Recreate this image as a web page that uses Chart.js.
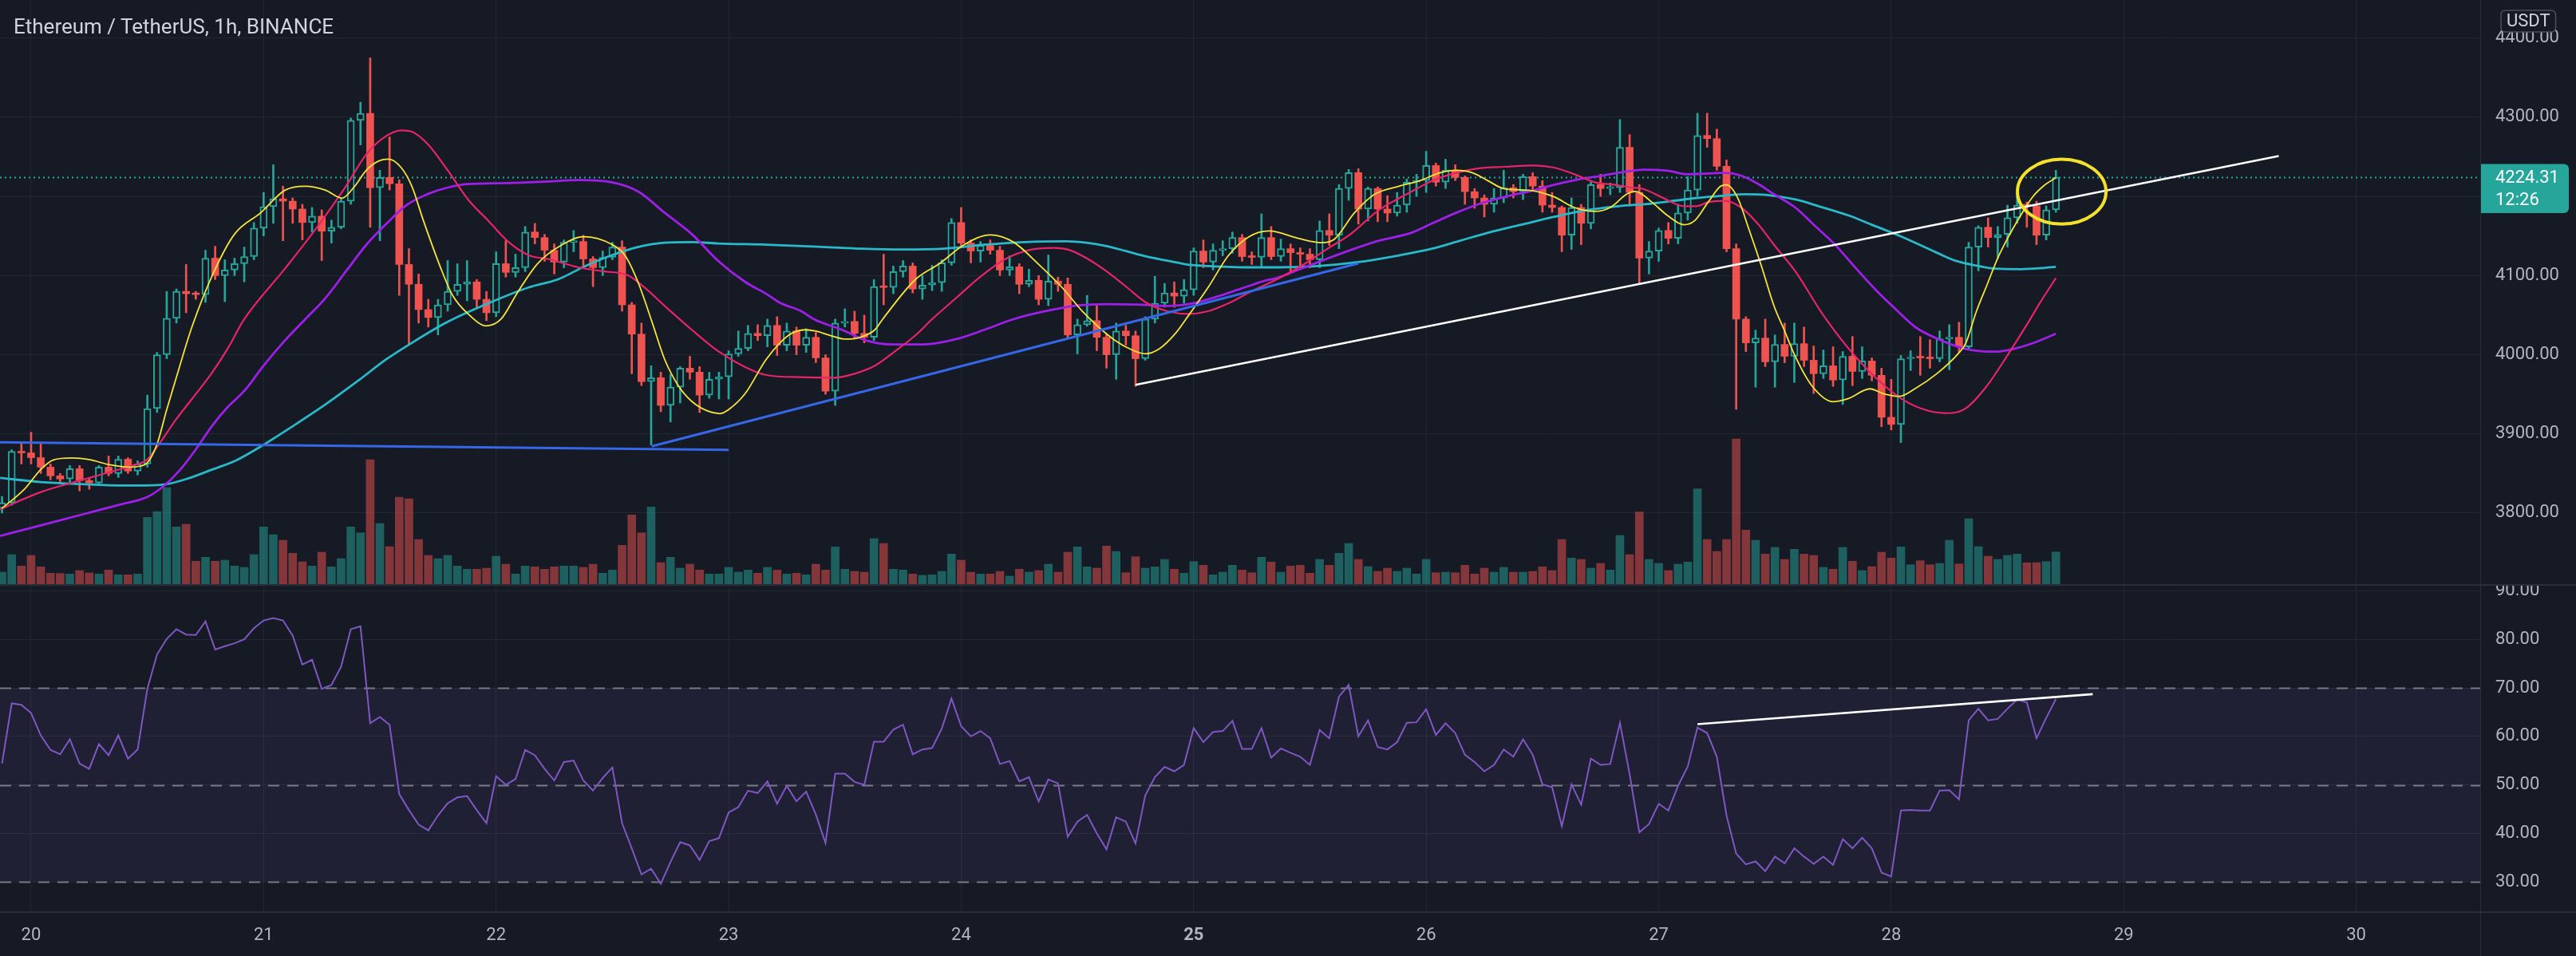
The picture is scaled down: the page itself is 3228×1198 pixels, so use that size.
<!DOCTYPE html>
<html>
<head>
<meta charset="utf-8">
<title>Ethereum / TetherUS, 1h, BINANCE</title>
<script src="https://cdn.jsdelivr.net/npm/chart.js@4.4.1/dist/chart.umd.min.js"></script>
<style>
  html, body { margin:0; padding:0; background:#161a25; }
  #wrap { position:relative; width:3228px; height:1198px; overflow:hidden; background:#161a25; }
  #priceCanvas { position:absolute; left:0; top:0; }
  #rsiCanvas { position:absolute; left:0; top:734px; }
  .sep { position:absolute; background:#2a2e39; }
  #title { position:absolute; left:17px; top:20px; font:26px Roboto, "Noto Sans", sans-serif; line-height:26px; color:#d1d4dc; white-space:nowrap; }
</style>
</head>
<body>
<div id="wrap">
  <canvas id="priceCanvas" width="3228" height="732"></canvas>
  <canvas id="rsiCanvas" width="3228" height="464"></canvas>
  <div class="sep" style="left:0;top:732px;width:3228px;height:2px;"></div>
  <div class="sep" style="left:0;top:1142px;width:3228px;height:2px;"></div>
  <div class="sep" style="left:3108px;top:0;width:1px;height:1198px;"></div>
  <div id="title">Ethereum / TetherUS, 1h, BINANCE</div>
</div>
<script>
// ---------------- DATA ----------------
const FIRST_HOUR = -3;            // hours relative to the 20th 00:00
const OPEN = [
3806,3813,3878,3876,3870,3858,3847,3843,3856,3841,
3838,3858,3850,3868,3853,3862,3932,4000,4046,4080,
4077,4076,4122,4100,4107,4115,4124,4160,4187,4197,
4194,4184,4167,4175,4156,4161,4194,4296,4305,4211,
4224,4216,4114,4089,4057,4047,4063,4080,4089,4092,
4070,4053,4115,4104,4110,4155,4148,4132,4117,4142,
4143,4121,4110,4123,4136,4063,4026,3966,3971,3936,
3959,3983,3978,3949,3969,3972,4001,4008,4027,4024,
4037,4012,4030,4012,4022,3996,3954,4040,4042,4027,
4022,4086,4085,4105,4112,4083,4088,4091,4116,4167,
4141,4131,4138,4132,4107,4111,4089,4094,4070,4093,
4089,4025,4038,4043,4022,4000,4030,4024,3995,4045,
4065,4078,4074,4082,4131,4117,4132,4134,4148,4124,
4123,4148,4124,4134,4129,4127,4120,4157,4151,4210,
4230,4184,4210,4184,4179,4189,4218,4220,4239,4218,
4233,4224,4206,4198,4190,4198,4211,4206,4225,4213,
4189,4186,4151,4186,4166,4215,4210,4211,4262,4205,
4122,4131,4157,4147,4179,4208,4277,4273,4238,4134,
4045,4015,4021,3991,4013,3998,4014,3993,3976,3986,
3968,3998,3979,3992,3974,3921,3912,3995,3997,3996,
3995,4020,4022,4010,4136,4161,4148,4152,4173,4189,
4188,4151,4183];
const HIGH = [
3821,3880,3888,3902,3888,3862,3850,3860,3860,3845,
3860,3872,3872,3870,3866,3949,4003,4080,4083,4114,
4080,4132,4137,4120,4122,4136,4167,4205,4240,4213,
4198,4190,4186,4183,4170,4197,4299,4319,4375,4233,
4275,4221,4134,4102,4070,4070,4119,4115,4119,4095,
4080,4130,4144,4127,4162,4166,4152,4140,4145,4157,
4151,4124,4131,4142,4144,4066,4040,3986,3978,3975,
3985,3998,3985,3978,3978,4005,4030,4037,4038,4045,
4048,4040,4035,4033,4028,4000,4045,4058,4055,4050,
4095,4127,4112,4119,4116,4100,4113,4120,4172,4186,
4145,4143,4145,4137,4125,4115,4108,4100,4126,4098,
4097,4045,4075,4062,4026,4040,4037,4030,4048,4099,
4090,4092,4095,4135,4145,4140,4144,4155,4152,4130,
4178,4162,4146,4140,4135,4134,4169,4178,4215,4234,
4235,4212,4212,4201,4205,4222,4228,4257,4242,4247,
4240,4226,4210,4202,4210,4233,4215,4228,4230,4220,
4205,4188,4198,4190,4218,4228,4217,4297,4278,4215,
4143,4160,4167,4190,4225,4305,4305,4285,4246,4140,
4048,4031,4045,4025,4040,4040,4035,4011,4006,4010,
4004,4023,4010,3996,3983,3969,3999,4005,4023,4019,
4030,4038,4041,4142,4163,4173,4162,4189,4205,4193,
4194,4188,4233];
const LOW = [
3800,3810,3862,3862,3850,3842,3838,3838,3828,3830,
3835,3847,3845,3850,3848,3858,3927,3995,4040,4053,
4070,4066,4095,4067,4100,4092,4120,4150,4166,4144,
4166,4145,4155,4119,4141,4159,4190,4265,4161,4144,
4208,4075,4013,4040,4035,4025,4055,4075,4068,4060,
4043,4048,4098,4098,4105,4140,4118,4102,4110,4130,
4112,4086,4100,4120,4055,3976,3961,3886,3928,3915,
3939,3969,3927,3945,3944,3944,3998,4005,4018,4010,
3999,4005,4000,4003,3990,3950,3936,4035,4020,4015,
4018,4063,4077,4098,4078,4070,4081,4080,4113,4135,
4116,4117,4127,4100,4100,4077,4086,4063,4062,4080,
4020,4001,4036,4005,3983,3969,4012,3960,3993,4040,
4060,4060,4065,4075,4110,4107,4125,4128,4118,4114,
4110,4120,4118,4105,4110,4110,4110,4138,4134,4195,
4165,4169,4168,4168,4175,4180,4200,4205,4213,4210,
4220,4190,4185,4174,4180,4192,4198,4196,4207,4180,
4180,4130,4133,4139,4159,4200,4202,4205,4188,4089,
4102,4118,4140,4140,4170,4200,4262,4233,4130,3931,
4004,3959,3985,3959,3990,3965,3985,3951,3970,3960,
3937,3961,3970,3967,3909,3905,3889,3980,3974,3983,
3991,3981,4003,4007,4106,4136,4122,4136,4166,4161,
4139,4145,4180];
const CLOSE = [
3813,3878,3876,3870,3858,3847,3843,3856,3841,3838,
3858,3850,3868,3853,3862,3932,4000,4046,4080,4077,
4076,4122,4100,4107,4115,4124,4160,4187,4197,4194,
4184,4167,4175,4156,4161,4194,4296,4305,4211,4224,
4216,4114,4089,4057,4047,4063,4080,4089,4092,4070,
4053,4115,4104,4110,4155,4148,4132,4117,4142,4143,
4121,4110,4123,4136,4063,4026,3966,3971,3936,3959,
3983,3978,3949,3969,3972,4001,4008,4027,4024,4037,
4012,4030,4012,4022,3996,3954,4040,4042,4027,4022,
4086,4085,4105,4112,4083,4088,4091,4116,4167,4141,
4131,4138,4132,4107,4111,4089,4094,4070,4093,4089,
4025,4038,4043,4022,4000,4030,4024,3995,4045,4065,
4078,4074,4082,4131,4117,4132,4134,4148,4124,4123,
4148,4124,4134,4129,4127,4120,4157,4151,4210,4230,
4184,4210,4184,4179,4189,4218,4220,4239,4218,4233,
4224,4206,4198,4190,4198,4211,4206,4225,4213,4189,
4186,4151,4186,4166,4215,4210,4211,4262,4205,4122,
4131,4157,4147,4179,4208,4277,4273,4238,4134,4045,
4015,4021,3991,4013,3998,4014,3993,3976,3986,3968,
3998,3979,3992,3974,3921,3912,3995,3997,3996,3995,
4020,4022,4010,4136,4161,4148,4152,4173,4189,4188,
4151,4183,4224.31];
const VOLUME = [
15,37,22.7,36,21.7,13.7,13.3,12.7,17,14,
12.7,17.7,11.7,11.7,12.7,83.7,91,121,71.7,75,
28.7,33.7,28.7,30,22.7,21,37,71.7,62,55,
38.7,28,22.7,40,21.7,32,71.7,64.3,156,76,
47,109,107,56,36,32,36,22.7,18.7,18.7,
20,35,25,12.7,22.7,21.7,18.7,21.7,22.7,22.7,
21,25,13.7,17.7,48.7,86.7,64.3,96.7,27,33.7,
20,25,17.7,12.7,12.7,21,15,17.7,13.7,21,
17.7,12.7,13.7,11.7,25,17.7,46.7,18.7,16,15,
57,51,18.7,17.7,12.7,11,11.7,16,37.7,30,
15,12.7,12.7,16,10,18.7,15,17,25,15,
40,46.7,21.7,20,47.7,41,14.3,34.3,20,21.7,
31,18.7,13.7,28.3,23.7,11.7,15,23.7,17.7,14.3,
33.7,27.7,15,22.7,23.7,13.7,31,23.7,38.7,51,
31,22,16,20,16,20,12.7,31,14.3,15,
14.3,23.7,12.7,20,15,21,15,15,16,21.7,
17,56,32.7,31,20,26,17.7,61,37,90.3,
31,26,17,25,27.7,119.3,56,41,56,182,
67.7,55,37.7,46,31,43.7,37.7,36,21,18.7,
46,28.7,17,22,40,32.7,46.7,24.3,29.3,24.3,
26,55,25.3,82,47,35,31,36,37.7,26.7,
27,28.3,40.3];
const RSI = [
54.4,66.8,66.5,64.8,60.2,57.2,56.3,59.4,54.4,53.3,
58.4,56.1,60.2,55.4,57.3,69.8,76.9,80.1,82.1,81.0,
80.9,83.7,77.9,78.6,79.2,80.0,82.3,83.9,84.4,83.9,
80.8,74.8,75.8,69.8,70.6,74.4,82.1,82.7,62.7,64.0,
62.4,48.1,44.8,41.8,40.6,43.7,46.2,47.4,47.7,44.8,
42.1,51.8,50.0,51.2,57.2,56.1,53.3,50.9,54.7,55.0,
50.9,48.8,51.4,53.6,42.1,36.9,31.5,32.7,29.6,34.1,
38.2,37.5,34.5,38.4,39.0,44.3,45.4,48.8,48.3,50.7,
46.1,49.8,46.6,48.6,43.9,38.0,52.3,52.3,50.6,50.0,
58.9,58.9,61.4,62.4,56.3,57.3,57.6,61.6,67.8,62.1,
60.0,61.1,59.6,54.3,54.9,50.7,51.6,46.6,51.1,50.3,
39.3,42.4,43.8,40.0,36.7,43.3,42.4,37.9,47.8,51.6,
53.7,52.8,54.1,61.7,58.8,60.9,61.1,63.2,57.4,57.4,
61.7,55.6,57.5,56.6,55.8,54.1,61.3,59.6,68.2,70.6,
60.0,63.3,57.8,57.3,58.8,62.8,62.9,65.6,60.3,62.7,
60.7,56.2,54.7,52.8,54.1,57.3,55.8,59.4,56.2,50.1,
49.5,41.5,50.1,45.9,55.4,54.1,54.3,62.8,52.2,40.2,
41.9,46.1,44.7,49.8,53.8,61.8,60.7,55.8,43.7,35.8,
33.6,34.2,32.2,35.2,33.8,36.9,35.2,33.7,35.2,33.5,
38.8,36.9,39.1,36.9,31.9,31.1,44.7,44.8,44.7,44.7,
48.8,48.9,47.0,63.3,65.7,63.3,63.6,65.7,67.6,67.0,
59.6,63.8,67.7];

// moving averages: [hour, price]
const MA_YELLOW = [[-3,3806],[-0.7,3830],[1,3855],[2.3,3867],[4.2,3869.5],[6,3867.5],[8.1,3861],[10.2,3858],[11.3,3859.4],[12,3863.5],[13,3887],[14,3930.6],[15.3,3984],[16.6,4035],[18.9,4105.4],[21,4152.4],[23.7,4179.3],[26.2,4207.8],[28.3,4212.9],[30.4,4207.8],[32.1,4197.8],[33.4,4212.9],[34.6,4233],[35.9,4244.8],[36.9,4247.2],[38.2,4236.4],[39.3,4212.9],[40.5,4169.2],[42.2,4112.1],[43.5,4075.1],[45.1,4051.6],[47,4036.5],[48.5,4044.9],[50.2,4078.5],[52.3,4115.4],[54.8,4138.9],[57,4149],[59.9,4139.6],[61.3,4125.5],[62.7,4090],[64.1,4041],[65.4,3994],[66.8,3961],[68.2,3941],[69.8,3929],[71.1,3925.6],[72,3930.7],[73.7,3950.8],[75.9,3994.5],[78.2,4024.7],[79.9,4031.5],[81,4029.8],[82.4,4024.7],[84.1,4019.7],[85.4,4021.4],[87.1,4031.5],[87.9,4044.9],[91.3,4095.3],[93.8,4115.4],[96.3,4138.9],[99,4151.4],[101.4,4142.3],[103.9,4115.4],[106.4,4085.2],[108.5,4055],[110.2,4034.8],[111.9,4018],[113.6,4006.3],[115,4001.2],[116.5,4007.9],[118.2,4028.1],[119.2,4044.9],[121.5,4085.2],[123.6,4125.5],[125.7,4149],[127.8,4156.4],[130.7,4147.4],[133.2,4141.6],[134.5,4145.7],[136.6,4179.3],[138.7,4202.8],[141.2,4212.9],[143.3,4219.6],[145.4,4229.7],[147.1,4233],[148.8,4229.7],[150.4,4219.6],[152.1,4209.5],[154.6,4207.8],[157.2,4199.4],[159.3,4186],[161.4,4181],[163,4186],[164.7,4202.8],[165.6,4206.2],[167.3,4192.7],[168.9,4175.9],[170.6,4164.2],[171.7,4169.2],[173.1,4192.7],[174.4,4212.9],[175,4214.6],[176.1,4199.4],[177.3,4159.1],[178.6,4112.1],[179.9,4061.7],[181,4030],[182.1,3997.8],[183.8,3961],[186,3940.7],[187.6,3944.8],[189.8,3956.9],[191.2,3950.8],[192.8,3947.4],[194.5,3957.5],[196.7,3976],[198.9,4001.2],[199.7,4014.6],[200.8,4055],[201.9,4088.5],[203,4122.2],[204.1,4149],[205.2,4172.6],[206.6,4199.4],[207.8,4214],[209,4223.6]];
const MA_PINK = [[-3.2,3804.6],[1,3826.5],[5.2,3841.6],[8.6,3853.4],[10.7,3860.8],[11.9,3866.8],[13.2,3887],[14.9,3917.2],[16.6,3944.1],[18.7,3977.7],[20.3,4007.9],[22,4044.9],[26.2,4108.7],[29.6,4162.5],[32.5,4212.9],[34.6,4253.2],[36.3,4273.4],[38.2,4283.4],[39.3,4281.8],[40.9,4266.6],[43,4233],[45.1,4196.1],[47.2,4169.2],[49.3,4142.3],[51.4,4125.5],[53.5,4120.5],[56.5,4110.4],[59,4105.4],[61.6,4100.3],[63.5,4083],[65.4,4061.7],[68.2,4031.5],[70.9,4004.6],[73.7,3984.4],[75.9,3974.3],[79.5,3971.6],[82.9,3971],[85,3976],[87.1,3986.1],[89.2,4004.6],[91.3,4024.7],[93,4044.9],[95.5,4071.8],[98,4098.6],[100.5,4120.5],[103,4132.2],[105.6,4134.9],[107.2,4132.2],[108.9,4122.2],[111,4105.4],[113.1,4085.2],[115.2,4065],[117.3,4055],[119.4,4051.6],[121.5,4055],[123.6,4065],[125.7,4078.5],[128.6,4095.3],[131.1,4112.1],[133.6,4132.2],[136.2,4152.4],[139.1,4182.6],[142,4202.8],[144.6,4219.6],[147.1,4229.7],[149.6,4235.7],[152.1,4237.4],[155.1,4239.1],[157.2,4236.4],[159.3,4228],[161.4,4217.9],[163.5,4214.6],[165.2,4211.2],[166.4,4209.5],[168.5,4197.8],[170.6,4187.7],[171.9,4187.7],[173.1,4192.7],[174.8,4194.4],[176.5,4186],[178.2,4165.8],[179.9,4138.9],[182.1,4105.4],[184.9,4051.6],[187.6,4007.9],[190.4,3971],[193.1,3944],[195.9,3929],[198,3926.2],[199.7,3932.3],[201.9,3961],[204.1,4001.2],[206,4038],[207.5,4068.4],[209,4096.9]];
const MA_PURPLE = [[-3.2,3771],[1,3784.5],[5.2,3797.9],[9.4,3811.4],[11.9,3819.8],[13.6,3833.2],[15.3,3853.4],[17,3880.3],[18.7,3910.5],[20.3,3934],[22,3954.2],[24.1,3987.8],[26.2,4018],[28.3,4044.9],[30.4,4071.8],[32.5,4105.4],[34.6,4138.9],[36.7,4165.8],[38.8,4189.4],[40.9,4202.8],[43,4211.2],[45.1,4215.6],[49.3,4216.9],[53.5,4218.9],[56.5,4220.6],[59.9,4218],[62.7,4206],[65.4,4179.3],[68.2,4152.4],[70.9,4118.8],[73.7,4092],[75.9,4076.8],[77.4,4065],[79.5,4055],[80.8,4044.9],[83.7,4031.5],[86.2,4018],[88.8,4013],[92.1,4013],[95.5,4019.7],[98.4,4031.5],[101.4,4044.9],[104.7,4055],[108.1,4062.4],[111,4064],[114,4063.4],[117.3,4061.7],[119.9,4065],[122.4,4073.4],[124.9,4083.5],[127.4,4093.6],[128.6,4097],[131.1,4108.7],[133.6,4120.5],[136.2,4132.2],[139.1,4144],[142.5,4154.1],[144.6,4165.8],[147.1,4179.3],[149.6,4191],[152.1,4199.4],[154.6,4206.2],[157.2,4214.6],[159.7,4221.3],[162.2,4226.3],[164.7,4231.4],[166.4,4233.7],[168.9,4232.4],[171,4228],[173.1,4229],[174.8,4229.7],[176.5,4226.3],[178.2,4216.2],[179.9,4202.8],[182.1,4186],[184.1,4163],[186.2,4139],[188.3,4110],[190.4,4081.9],[192.5,4057],[194.5,4034.8],[197.2,4017.9],[199.7,4007.3],[202.7,4003.9],[204.6,4007.3],[206.8,4015.4],[209,4026.4]];
const MA_CYAN = [[-3.2,3844.3],[1,3839.2],[5.2,3836.6],[9.4,3834.9],[11.9,3834.9],[14,3836.6],[16.1,3843.3],[18.7,3855],[21.2,3866.8],[24.1,3887],[27.1,3910.5],[30.4,3937.4],[33.8,3967.6],[36.7,3994.5],[39.7,4018],[43,4041.5],[47.2,4065],[51.4,4085.2],[54.4,4095.3],[57.2,4112],[59.9,4125.5],[62.7,4136.3],[65.4,4141.6],[68.2,4142.3],[70.9,4140.6],[75.9,4139],[81.6,4136.3],[85.8,4133.9],[90,4132.9],[94.2,4133.9],[98.4,4138.9],[102.6,4142.3],[106.8,4143.3],[108.9,4141.6],[111,4137.3],[113.1,4130.6],[115.2,4123.8],[117.3,4118.8],[119.4,4113.8],[121.5,4112.1],[125.7,4110.4],[128.6,4110.4],[132.8,4112.1],[137,4117.1],[141.2,4125.5],[144.6,4133.9],[147.5,4144],[150.4,4154.1],[153.8,4164.2],[157.2,4174.2],[160.5,4182.6],[163.9,4187.7],[167.3,4191],[170.6,4196.1],[173.1,4199.4],[174.8,4201.1],[176.9,4202.8],[179,4202.1],[182.1,4196.1],[184.5,4187.7],[187.6,4175.9],[190,4164.2],[193.1,4149],[196.7,4128.9],[198.6,4118.8],[201,4112.1],[202.7,4108.7],[205.4,4108.1],[207.5,4109.4],[209,4111.1]];

// drawn trend lines: [hour, value]
const BLUE_FLAT = [[-3.21,3889.4],[72,3879.8]];
const BLUE_RISING = [[64.07,3884.3],[137,4115.4]];
const WHITE_PRICE = [[114,3962],[232,4251]];
const WHITE_RSI = [[172,62.5],[212.8,68.7]];
const ELLIPSE_CENTER = [209.6, 4206];   // hour, price
const ELLIPSE_RADIUS = [4.57, 41];      // hours, price units

const LAST_PRICE = 4224.31;
const COUNTDOWN = '12:26';
const CURRENCY = 'USDT';
const DAY_TICKS = [0,24,48,72,96,120,144,168,192,216,240];
const DAY_LABELS = ['20','21','22','23','24','25','26','27','28','29','30'];
const BOLD_DAY = '25';
const PRICE_TICKS = [3800,3900,4000,4100,4200,4300,4400];
const RSI_TICKS = [30,40,50,60,70,80,90];
const RSI_LEVELS = [70,50,30];
const RSI_BAND = [30,70];

// ---------------- VIEW ----------------
const X_MIN = -3.21, X_MAX = 252.8;
const P_MIN = 3710.2, P_MAX = 4448.1;
const VOL_MAX = 732;
const RSI_MIN = 23.91, RSI_MAX = 91.07;

const BG = '#161a25', GRID = '#232733', TEXT = '#b2b5be';
const UP = '#26a69a', DOWN = '#ef5350';
const VOL_UP = 'rgba(38,166,154,0.5)', VOL_DOWN = 'rgba(239,83,80,0.5)';
const FONT = 'Roboto, "Noto Sans", sans-serif';
Chart.defaults.font.family = FONT;
Chart.defaults.font.size = 22;
Chart.defaults.color = TEXT;

const HOURS = OPEN.map((_, i) => FIRST_HOUR + i);
const isUp = HOURS.map((_, i) => CLOSE[i] >= OPEN[i]);
const pts = arr => arr.map(p => ({x: p[0], y: p[1]}));

function lineDs(arr, color, width, order, extra) {
  return Object.assign({
    type: 'line', data: pts(arr), borderColor: color, borderWidth: width,
    pointRadius: 0, fill: false, cubicInterpolationMode: 'monotone',
    yAxisID: 'y', order: order
  }, extra || {});
}

const dayTicks = s => { s.ticks = DAY_TICKS.map(v => ({value: v})); };

const priceOverlay = {
  id: 'priceOverlay',
  beforeDatasetsDraw(chart) {
    const {ctx, chartArea: a, scales: {y}} = chart;
    const py = Math.round(y.getPixelForValue(LAST_PRICE)) + 0.5;
    ctx.save();
    ctx.strokeStyle = UP; ctx.lineWidth = 2; ctx.setLineDash([2, 4]);
    ctx.beginPath(); ctx.moveTo(a.left, py); ctx.lineTo(a.right, py); ctx.stroke();
    ctx.restore();
  },
  afterDatasetsDraw(chart) {
    const {ctx, chartArea: a, scales: {x, y}} = chart;
    const cx = x.getPixelForValue(ELLIPSE_CENTER[0]);
    const cy = y.getPixelForValue(ELLIPSE_CENTER[1]);
    const rx = Math.abs(x.getPixelForValue(ELLIPSE_CENTER[0] + ELLIPSE_RADIUS[0]) - cx);
    const ry = Math.abs(y.getPixelForValue(ELLIPSE_CENTER[1] + ELLIPSE_RADIUS[1]) - cy);
    ctx.save();
    ctx.beginPath(); ctx.rect(a.left, a.top, a.right - a.left, a.bottom - a.top); ctx.clip();
    ctx.strokeStyle = '#f3e12c'; ctx.lineWidth = 4;
    ctx.beginPath(); ctx.ellipse(cx, cy, rx, ry, 0, 0, Math.PI * 2); ctx.stroke();
    ctx.restore();
  },
  afterDraw(chart) {
    const {ctx, scales: {y}} = chart;
    const py = y.getPixelForValue(LAST_PRICE);
    const left = y.left, right = chart.width - 9;
    ctx.save();
    ctx.fillStyle = UP;
    ctx.beginPath(); ctx.roundRect(left, py - 16.5, right - left, 61.5, [0, 6, 6, 0]); ctx.fill();
    ctx.fillStyle = '#ffffff'; ctx.font = '22px ' + FONT;
    ctx.textAlign = 'left'; ctx.textBaseline = 'middle';
    ctx.fillText(LAST_PRICE.toFixed(2), left + 19, py + 1.6);
    ctx.fillText(COUNTDOWN, left + 19, py + 29);
    // currency badge
    const bx = left + 26, bw = 68.5, by = 13, bh = 27;
    ctx.fillStyle = BG; ctx.strokeStyle = '#4a4f5b'; ctx.lineWidth = 1.5;
    ctx.beginPath(); ctx.roundRect(bx, by, bw, bh, 5); ctx.fill(); ctx.stroke();
    ctx.fillStyle = '#d1d4dc'; ctx.textAlign = 'center';
    ctx.fillText(CURRENCY, bx + bw / 2, by + bh / 2 + 1);
    ctx.restore();
  }
};

new Chart(document.getElementById('priceCanvas'), {
  type: 'bar',
  data: {
    datasets: [
      { type: 'bar', label: 'Volume', yAxisID: 'yv', order: 9, grouped: false,
        data: HOURS.map((h, i) => ({x: h, y: VOLUME[i]})),
        backgroundColor: isUp.map(u => u ? VOL_UP : VOL_DOWN), barThickness: 10 },
      { type: 'bar', label: 'Wick', yAxisID: 'y', order: 8, grouped: false,
        data: HOURS.map((h, i) => ({x: h, y: [LOW[i], HIGH[i]]})),
        backgroundColor: isUp.map(u => u ? UP : DOWN), barThickness: 2 },
      { type: 'bar', label: 'Body', yAxisID: 'y', order: 7, grouped: false,
        data: HOURS.map((h, i) => ({x: h, y: [OPEN[i], CLOSE[i]]})),
        backgroundColor: isUp.map(u => u ? BG : DOWN),
        borderColor: isUp.map(u => u ? UP : DOWN),
        borderWidth: isUp.map(u => u ? 2 : 0),
        borderSkipped: false, barThickness: 9, minBarLength: 2 },
      lineDs(MA_CYAN, '#29b9c9', 2.8, 6),
      lineDs(MA_PURPLE, '#9d1fe8', 2.8, 5),
      lineDs(MA_PINK, '#e5246a', 2.2, 4),
      lineDs(MA_YELLOW, '#f5e53a', 1.8, 3),
      lineDs(BLUE_FLAT, '#3567e8', 3, 2, {cubicInterpolationMode: 'default', tension: 0}),
      lineDs(BLUE_RISING, '#3567e8', 3, 2, {cubicInterpolationMode: 'default', tension: 0}),
      lineDs(WHITE_PRICE, '#ffffff', 2.6, 1, {cubicInterpolationMode: 'default', tension: 0})
    ]
  },
  options: {
    responsive: false, animation: false, devicePixelRatio: 1, events: [],
    layout: {padding: 0},
    plugins: {legend: {display: false}, tooltip: {enabled: false}},
    scales: {
      x: { type: 'linear', min: X_MIN, max: X_MAX, offset: false, afterBuildTicks: dayTicks,
           ticks: {display: false}, grid: {color: GRID, drawTicks: false, offset: false},
           border: {display: false}, afterFit: s => { s.height = 0; s.paddingLeft = 0; s.paddingRight = 0; } },
      y: { type: 'linear', position: 'right', min: P_MIN, max: P_MAX,
           afterBuildTicks: s => { s.ticks = PRICE_TICKS.map(v => ({value: v})); },
           ticks: {color: TEXT, padding: 19, callback: v => Number(v).toFixed(2)},
           grid: {color: GRID, drawTicks: false},
           border: {display: false},
           afterFit: s => { s.width = 120; s.paddingTop = 0; s.paddingBottom = 0; } },
      yv: { type: 'linear', display: false, min: 0, max: VOL_MAX }
    }
  },
  plugins: [priceOverlay]
});

const rsiOverlay = {
  id: 'rsiOverlay',
  beforeDatasetsDraw(chart) {
    const {ctx, chartArea: a, scales: {y}} = chart;
    const yTop = y.getPixelForValue(RSI_BAND[1]), yBot = y.getPixelForValue(RSI_BAND[0]);
    ctx.save();
    ctx.fillStyle = 'rgba(126,87,194,0.1)';
    ctx.fillRect(a.left, yTop, a.right - a.left, yBot - yTop);
    ctx.strokeStyle = '#787b86'; ctx.lineWidth = 2; ctx.setLineDash([14, 10]);
    RSI_LEVELS.forEach(v => {
      const py = Math.round(y.getPixelForValue(v)) + 0.5;
      ctx.beginPath(); ctx.moveTo(a.left, py); ctx.lineTo(a.right, py); ctx.stroke();
    });
    ctx.restore();
  }
};

new Chart(document.getElementById('rsiCanvas'), {
  type: 'line',
  data: {
    datasets: [
      { label: 'RSI', data: HOURS.map((h, i) => ({x: h, y: RSI[i]})), borderColor: '#7e57c2',
        borderWidth: 2, pointRadius: 0, tension: 0, fill: false, order: 2 },
      { label: 'RSI trend', data: pts(WHITE_RSI), borderColor: '#ffffff', borderWidth: 2.6,
        pointRadius: 0, tension: 0, fill: false, order: 1 }
    ]
  },
  options: {
    responsive: false, animation: false, devicePixelRatio: 1, events: [],
    layout: {padding: 0},
    plugins: {legend: {display: false}, tooltip: {enabled: false}},
    scales: {
      x: { type: 'linear', min: X_MIN, max: X_MAX, offset: false, afterBuildTicks: dayTicks,
           ticks: { color: TEXT, padding: 17, maxRotation: 0, autoSkip: false,
                    callback: v => { const k = DAY_TICKS.indexOf(v); return k >= 0 ? DAY_LABELS[k] : ''; },
                    font: c => ({ family: FONT, size: 22,
                      weight: (c.tick && DAY_LABELS[DAY_TICKS.indexOf(c.tick.value)] === BOLD_DAY) ? 'bold' : 'normal' }) },
           grid: {color: GRID, drawTicks: false}, border: {display: false},
           afterFit: s => { s.height = 56; s.paddingLeft = 0; s.paddingRight = 0; } },
      y: { type: 'linear', position: 'right', min: RSI_MIN, max: RSI_MAX,
           afterBuildTicks: s => { s.ticks = RSI_TICKS.map(v => ({value: v})); },
           ticks: {color: TEXT, padding: 19, callback: v => Number(v).toFixed(2)},
           grid: {color: GRID, drawTicks: false}, border: {display: false},
           afterFit: s => { s.width = 120; s.paddingTop = 0; s.paddingBottom = 0; } }
    }
  },
  plugins: [rsiOverlay]
});
</script>
</body>
</html>
